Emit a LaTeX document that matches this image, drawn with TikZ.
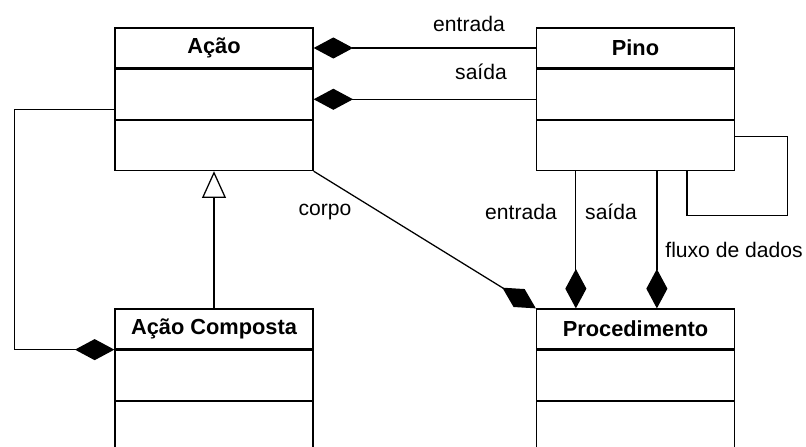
\documentclass[tikz,border=0pt]{standalone}
\usepackage{fontspec}
\setmainfont{Liberation Sans}
\usepackage{tikz}
\usetikzlibrary{positioning,arrows.meta}

\begin{document}
\begin{tikzpicture}[x=0.025cm,y=-0.025cm,line width=0.9pt,
    header/.style={draw,minimum width=4.95cm,minimum height=1cm,inner sep=0pt,font=\fontsize{15.5}{18}\selectfont\bfseries},
    body/.style={draw,minimum width=4.95cm,minimum height=1.25cm,inner sep=0pt},
    lbl/.style={inner sep=0pt,font=\fontsize{15}{18}\selectfont},
    comp/.style={-{Diamond[length=28pt,width=15pt]}},
    gen/.style={-{Triangle[open,length=19pt,width=17pt]}}]
    \useasboundingbox (0,0) rectangle (806,446);
    \clip (0,0) rectangle (806,446);

    % classes
    \node[header] (acao) at (214,48) {Ação};
    \node[body,below=0pt of acao] (acaoA) {};
    \node[body,below=0pt of acaoA] (acaoB) {};

    \node[header] (pino) at (635.5,48) {Pino};
    \node[body,below=0pt of pino] (pinoA) {};
    \node[body,below=0pt of pinoA] (pinoB) {};

    \node[header] (composta) at (214,329) {Ação Composta};
    \node[body,below=0pt of composta] (compostaA) {};
    \node[body,below=0pt of compostaA] (compostaB) {};

    \node[header] (proc) at (635.5,329) {Procedimento};
    \node[body,below=0pt of proc] (procA) {};
    \node[body,below=0pt of procA] (procB) {};

    % Pino - Acao
    \draw[comp] (pino.west) -- (acao.east);
    \draw[comp] ([yshift=-0.125cm]pinoA.west) -- ([yshift=-0.125cm]acaoA.east);
    \node[lbl] (lentrada) at (469,24) {entrada};
    \node[lbl] (lsaida) at (481,72) {saída};

    % Acao - Acao Composta
    \draw[comp] ([yshift=-0.375cm]acaoA.west) -- ++(-2.5cm,0) |- (composta.south west);
    \draw[gen] (composta.north) -- (acaoB.south);

    % corpo
    \draw[comp] (acaoB.south east) -- (proc.north west);
    \node[lbl] (lcorpo) at (325,212) {corpo};

    % Pino - Procedimento
    \draw[comp] ([xshift=1cm]pinoB.south west) -- ([xshift=1cm]proc.north west);
    \draw[comp] ([xshift=3.025cm]pinoB.south west) -- ([xshift=3.025cm]proc.north west);
    \node[lbl] (lentrada2) at (521,212) {entrada};
    \node[lbl] (lsaida2) at (611,212) {saída};
    \node[lbl] (lfluxo) at (734,250) {fluxo de dados};

    % self loop
    \coordinate (loopin) at ([xshift=3.775cm]pinoB.south west);
    \draw ([yshift=0.225cm]pinoB.east) -- ++(1.3cm,0) -- ++(0,-1.975cm) -| (loopin);
\end{tikzpicture}
\end{document}
